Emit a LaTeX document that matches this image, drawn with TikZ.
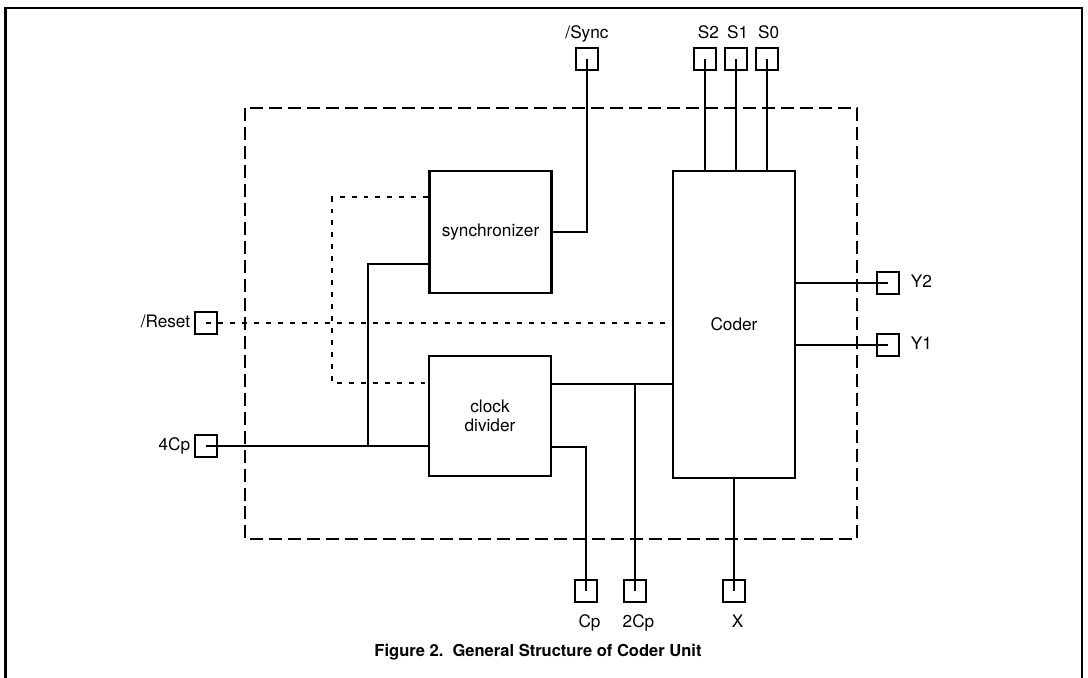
\documentclass[tikz,border=0pt]{standalone}
\usepackage{fontspec}
\setmainfont{TeX Gyre Heros}
\usetikzlibrary{positioning}

\begin{document}
\begin{tikzpicture}[
  x=0.02cm, y=-0.02cm,
  font=\fontsize{9.8}{11}\selectfont,
  block/.style={draw, line width=1.5pt, align=center, minimum width=2.44cm, minimum height=2.44cm, inner sep=1pt},
  pin/.style={draw, line width=1.4pt, minimum size=0.44cm, inner sep=0pt},
  pinlabel/.style={inner sep=1pt, text height=7pt, text depth=2pt},
  wire/.style={line width=0.85pt},
  ctrl/.style={line width=0.85pt, dash pattern=on 2.8pt off 4pt},
  chip/.style={line width=1.1pt, dash pattern=on 7.4pt off 3.4pt}
]
\useasboundingbox (0,0) rectangle (1088,678);

\draw[line width=1.5pt] (5.5,700) -- (5.5,8) -- (1082,8) -- (1082,700);
\draw[chip] (245,108) rectangle (857,539);

\node[block] (sync) at (490.5,232) {synchronizer};
\node[block, minimum height=2.4cm] (clk) at (490,416) {clock\\divider};
\node[block, minimum height=6.14cm] (coder) at (734,324.5) {Coder};

\node[pin] (psync) at (587,59) {};
\node[pin] (ps2) at (705,59) {};
\node[pin] (ps1) at (736,59) {};
\node[pin] (ps0) at (767,59) {};
\node[pin] (py2) at (888,283) {};
\node[pin] (py1) at (888,345) {};
\node[pin] (preset) at (206,323) {};
\node[pin] (p4cp) at (206,446) {};
\node[pin] (pcp) at (586,591) {};
\node[pin] (p2cp) at (635,591) {};
\node[pin] (px) at (734,591) {};

\node[pinlabel, above=0.05cm of psync] (lsync) {/Sync};
\node[pinlabel, above=0.05cm of ps2, xshift=2pt] (ls2) {S2};
\node[pinlabel, above=0.05cm of ps1, xshift=1pt] (ls1) {S1};
\node[pinlabel, above=0.05cm of ps0, xshift=1pt] (ls0) {S0};
\node[pinlabel, right=0.17cm of py2] (ly2) {Y2};
\node[pinlabel, right=0.17cm of py1] (ly1) {Y1};
\node[pinlabel, left=0.03cm of preset] (lreset) {/Reset};
\node[pinlabel, left=0.03cm of p4cp] (l4cp) {4Cp};
\node[pinlabel, below=0.2cm of pcp, xshift=2pt] (lcp) {Cp};
\node[pinlabel, below=0.2cm of p2cp, xshift=2pt] (l2cp) {2Cp};
\node[pinlabel, below=0.2cm of px, xshift=2pt] (lx) {X};

\draw[wire] (sync.east) -| (psync.center);
\foreach \p in {ps2,ps1,ps0}
  \draw[wire] (\p.center) -- (\p.center |- coder.north);
\foreach \p in {py2,py1}
  \draw[wire] (\p.center -| coder.east) -- (\p.center);

\draw[ctrl] (preset.center) -- (preset.center -| coder.west);
\draw[ctrl] ([yshift=0.7cm]sync.west) -- ++(-96,0) |- ([yshift=0.66cm]clk.west);

\coordinate (fork) at (368,446);
\draw[wire] (p4cp.center) -- (p4cp.center -| clk.west);
\draw[wire] (fork) |- ([yshift=-0.64cm]sync.west);

\coordinate (clkout) at ([yshift=0.64cm]clk.east);
\draw[wire] (clkout) -- (clkout -| coder.west);
\draw[wire] (clkout -| p2cp) -- (p2cp.center);
\draw[wire] ([yshift=-0.62cm]clk.east) -| (pcp.center);
\draw[wire] (coder.south) -- (px.center);

\node[font=\fontsize{9.4}{11}\selectfont\bfseries] (caption) at (538,652) {Figure 2.\ \ General Structure of Coder Unit};

\end{tikzpicture}
\end{document}
